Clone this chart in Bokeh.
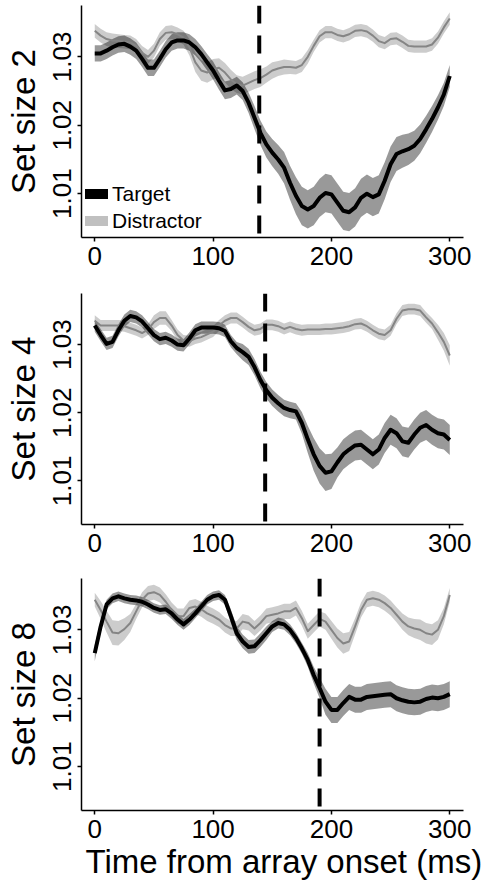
import numpy as np
from bokeh.plotting import figure
from bokeh.models import (Range1d, FixedTicker, Span, Legend, LegendItem,
                          PrintfTickFormatter, Title)
from bokeh.layouts import column
from bokeh.embed import file_html
from bokeh.resources import INLINE

# ---------------- data ----------------
time_ms = list(range(0, 301, 5))

onsets = [139, 144, 190]
panel_labels = ["Set size 2", "Set size 4", "Set size 8"]
x_title = "Time from array onset (ms)"
x_ticks = [0, 100, 200, 300]
y_ticks = [1.01, 1.02, 1.03]

target_2 = [1.0305, 1.0305, 1.0309, 1.0314, 1.0318, 1.0319, 1.0315, 1.0309, 1.0297, 1.0284,
            1.0284, 1.0297, 1.0311, 1.0321, 1.0324, 1.0324, 1.0321, 1.0314, 1.0304, 1.0292,
            1.0280, 1.0265, 1.0251, 1.0253, 1.0258, 1.0250, 1.0233, 1.0211, 1.0189, 1.0172,
            1.0160, 1.0150, 1.0138, 1.0116, 1.0097, 1.0082, 1.0077, 1.0082, 1.0094, 1.0101,
            1.0099, 1.0087, 1.0075, 1.0073, 1.0080, 1.0094, 1.0100, 1.0095, 1.0099, 1.0119,
            1.0143, 1.0158, 1.0162, 1.0165, 1.0170, 1.0180, 1.0194, 1.0209, 1.0226, 1.0245,
            1.0272]
target_2_ci = [0.0012] * 20 + [0.0013] * 6 + [0.0015, 0.0017, 0.0018, 0.0019, 0.0020] + \
              [0.0021, 0.0023, 0.0025, 0.0027] + [0.0028] * 14 + \
              [0.0027, 0.0026, 0.0025, 0.0024, 0.0023, 0.0022, 0.0021, 0.0020, 0.0019, 0.0018,
               0.0017, 0.0016]
distractor_2 = [1.0338, 1.0331, 1.0326, 1.0324, 1.0323, 1.0322, 1.0321, 1.0316, 1.0306, 1.0300,
                1.0309, 1.0326, 1.0335, 1.0336, 1.0333, 1.0328, 1.0314, 1.0292, 1.0280, 1.0277,
                1.0282, 1.0284, 1.0277, 1.0267, 1.0260, 1.0258, 1.0262, 1.0266, 1.0269, 1.0274,
                1.0280, 1.0283, 1.0285, 1.0285, 1.0284, 1.0288, 1.0300, 1.0316, 1.0330, 1.0336,
                1.0336, 1.0332, 1.0330, 1.0333, 1.0338, 1.0339, 1.0337, 1.0331, 1.0323, 1.0320,
                1.0326, 1.0327, 1.0322, 1.0316, 1.0315, 1.0315, 1.0315, 1.0318, 1.0328, 1.0343,
                1.0356]
distractor_2_ci = [0.0010] * 16 + \
                  [0.0012, 0.0014, 0.0015, 0.0015, 0.0015, 0.0014, 0.0014, 0.0014, 0.0013, 0.0013,
                   0.0013, 0.0013, 0.0013, 0.0012, 0.0012, 0.0011, 0.0011, 0.0010, 0.0010, 0.0010,
                   0.0010] + [0.0009] * 24

target_4 = [1.0328, 1.0314, 1.0301, 1.0304, 1.0321, 1.0335, 1.0342, 1.0340, 1.0334, 1.0324,
            1.0314, 1.0308, 1.0310, 1.0306, 1.0300, 1.0299, 1.0309, 1.0321, 1.0325, 1.0325,
            1.0325, 1.0324, 1.0320, 1.0305, 1.0295, 1.0289, 1.0282, 1.0267, 1.0248, 1.0233,
            1.0222, 1.0214, 1.0207, 1.0204, 1.0202, 1.0185, 1.0161, 1.0139, 1.0122, 1.0112,
            1.0114, 1.0127, 1.0139, 1.0146, 1.0152, 1.0153, 1.0146, 1.0139, 1.0146, 1.0163,
            1.0175, 1.0170, 1.0158, 1.0156, 1.0168, 1.0178, 1.0182, 1.0175, 1.0170, 1.0168,
            1.0160]
target_4_ci = [0.0009] * 25 + [0.0012] * 10 + [0.0016, 0.0020] + \
              [0.0024, 0.0026, 0.0027, 0.0026] + [0.0022] * 20
distractor_4 = [1.0335, 1.0328, 1.0328, 1.0328, 1.0328, 1.0327, 1.0324, 1.0321, 1.0317, 1.0322,
                1.0333, 1.0339, 1.0339, 1.0328, 1.0314, 1.0306, 1.0305, 1.0309, 1.0311, 1.0315,
                1.0319, 1.0328, 1.0335, 1.0339, 1.0339, 1.0333, 1.0326, 1.0321, 1.0323, 1.0329,
                1.0329, 1.0327, 1.0323, 1.0326, 1.0323, 1.0321, 1.0322, 1.0322, 1.0322, 1.0323,
                1.0323, 1.0324, 1.0325, 1.0327, 1.0330, 1.0331, 1.0327, 1.0321, 1.0316, 1.0314,
                1.0321, 1.0338, 1.0350, 1.0352, 1.0352, 1.0350, 1.0340, 1.0331, 1.0318, 1.0304,
                1.0284]
distractor_4_ci = [0.0008] * 10 + [0.0010] * 3 + [0.0008] * 45 + [0.0011, 0.0013, 0.0015]

target_8 = [1.0266, 1.0305, 1.0337, 1.0346, 1.0349, 1.0346, 1.0344, 1.0343, 1.0341, 1.0337,
            1.0332, 1.0329, 1.0330, 1.0324, 1.0315, 1.0308, 1.0315, 1.0324, 1.0334, 1.0344,
            1.0349, 1.0351, 1.0344, 1.0320, 1.0295, 1.0283, 1.0275, 1.0276, 1.0285, 1.0295,
            1.0305, 1.0310, 1.0308, 1.0300, 1.0288, 1.0273, 1.0256, 1.0234, 1.0215, 1.0195,
            1.0183, 1.0183, 1.0193, 1.0202, 1.0198, 1.0198, 1.0202, 1.0203, 1.0204, 1.0205,
            1.0206, 1.0200, 1.0197, 1.0195, 1.0194, 1.0195, 1.0199, 1.0201, 1.0200, 1.0202,
            1.0206]
target_8_ci = [0.0012, 0.0009] + [0.0007] * 11 + [0.0008] * 4 + [0.0007] * 6 + \
              [0.0010] * 7 + [0.0008] * 6 + [0.0010, 0.0012, 0.0015] + [0.0019] * 22
distractor_8 = [1.0344, 1.0329, 1.0312, 1.0296, 1.0295, 1.0301, 1.0310, 1.0327, 1.0344, 1.0353,
                1.0355, 1.0351, 1.0341, 1.0329, 1.0320, 1.0320, 1.0332, 1.0334, 1.0330, 1.0324,
                1.0320, 1.0315, 1.0307, 1.0302, 1.0302, 1.0312, 1.0310, 1.0302, 1.0310, 1.0320,
                1.0322, 1.0324, 1.0327, 1.0327, 1.0332, 1.0317, 1.0298, 1.0307, 1.0316, 1.0312,
                1.0300, 1.0288, 1.0280, 1.0283, 1.0305, 1.0329, 1.0344, 1.0346, 1.0344, 1.0339,
                1.0332, 1.0322, 1.0312, 1.0305, 1.0302, 1.0300, 1.0295, 1.0293, 1.0300, 1.0320,
                1.0351]
distractor_8_ci = [0.0010, 0.0013, 0.0016, 0.0018, 0.0018, 0.0016, 0.0013] + [0.0011] * 32 + \
                  [0.0012, 0.0013, 0.0014, 0.0015, 0.0014, 0.0012] + [0.0011] * 7 + \
                  [0.0012, 0.0013, 0.0014, 0.0015, 0.0015, 0.0015, 0.0014, 0.0012, 0.0010]

legend_labels = ["Target", "Distractor"]

# ---------------- styling ----------------
FONT = "Liberation Sans"
X_RANGE = (-11.2, 311.6)
Y_RANGE = (1.0036, 1.0375)


def make_panel(idx, tgt, tgt_ci, dis, dis_ci, height, top, bottom,
               xlabel=None, legend=False):
    p = figure(width=490, height=height,
               x_range=Range1d(*X_RANGE), y_range=Range1d(*Y_RANGE),
               output_backend="svg", toolbar_location=None,
               min_border_left=81, min_border_right=27,
               min_border_top=top, min_border_bottom=bottom)
    p.outline_line_color = None
    p.grid.visible = False
    p.background_fill_color = "white"
    p.border_fill_color = "white"

    t = np.array(time_ms, dtype=float)
    tg = np.array(tgt); tc = np.array(tgt_ci)
    ds = np.array(dis); dc = np.array(dis_ci)

    p.varea(x=t, y1=ds - dc, y2=ds + dc, fill_color="black", fill_alpha=0.2)
    p.varea(x=t, y1=tg - tc, y2=tg + tc, fill_color="black", fill_alpha=0.4)
    p.line(t, ds, line_color="#858585", line_width=2, line_join="round")
    p.line(t, tg, line_color="black", line_width=4, line_join="round")

    p.add_layout(Span(location=onsets[idx], dimension="height", line_color="black",
                      line_width=4, line_dash="18 12"))

    # axes
    p.xaxis.ticker = FixedTicker(ticks=x_ticks)
    p.yaxis.ticker = FixedTicker(ticks=y_ticks)
    p.xaxis.formatter = PrintfTickFormatter(format="%d")
    p.yaxis.formatter = PrintfTickFormatter(format="%.2f")
    p.yaxis.major_label_orientation = "vertical"
    for ax in (p.xaxis, p.yaxis):
        ax.axis_line_color = "black"
        ax.axis_line_width = 1.5
        ax.major_tick_line_color = "black"
        ax.major_tick_line_width = 1.5
        ax.major_tick_out = 4
        ax.major_tick_in = 0
        ax.minor_tick_line_color = None
        ax.major_label_text_font = FONT
        ax.major_label_text_font_size = "26px"
        ax.major_label_text_color = "black"
        ax.axis_label_text_font = FONT
        ax.axis_label_text_font_size = "33px"
        ax.axis_label_text_font_style = "normal"
        ax.axis_label_text_color = "black"
    p.yaxis.major_label_standoff = 6
    p.xaxis.major_label_standoff = 5
    p.yaxis.axis_label = panel_labels[idx]
    p.yaxis.axis_label_standoff = 9

    if xlabel:
        p.add_layout(Title(text=xlabel, align="left", offset=4, standoff=0,
                           text_font=FONT, text_font_size="33px",
                           text_font_style="normal", text_color="black"), "below")

    if legend:
        # legend-only renderers, placed outside the visible x range
        r1 = p.line(x=[X_RANGE[0] - 50, X_RANGE[0] - 40], y=[1.02, 1.02],
                    line_color="black", line_width=10, line_cap="round")
        r2 = p.line(x=[X_RANGE[0] - 50, X_RANGE[0] - 40], y=[1.02, 1.02],
                    line_color="#c0c0c0", line_width=10, line_cap="round")
        leg = Legend(items=[LegendItem(label=legend_labels[0], renderers=[r1]),
                            LegendItem(label=legend_labels[1], renderers=[r2])],
                     location=(4, 3), orientation="vertical",
                     label_text_font=FONT, label_text_font_size="21px",
                     label_text_color="black",
                     glyph_width=23, glyph_height=27, label_height=27,
                     spacing=0, padding=0, margin=0, label_standoff=4,
                     border_line_color=None, background_fill_alpha=0)
        p.add_layout(leg)
    return p


p1 = make_panel(0, target_2, target_2_ci, distractor_2, distractor_2_ci,
                height=288, top=5, bottom=51, legend=True)
p2 = make_panel(1, target_4, target_4_ci, distractor_4, distractor_4_ci,
                height=287, top=5, bottom=51)
p3 = make_panel(2, target_8, target_8_ci, distractor_8, distractor_8_ci,
                height=313, top=3, bottom=78, xlabel=x_title)

layout = column(p1, p2, p3, spacing=0)
open("out.html", "w").write(file_html(layout, INLINE))
